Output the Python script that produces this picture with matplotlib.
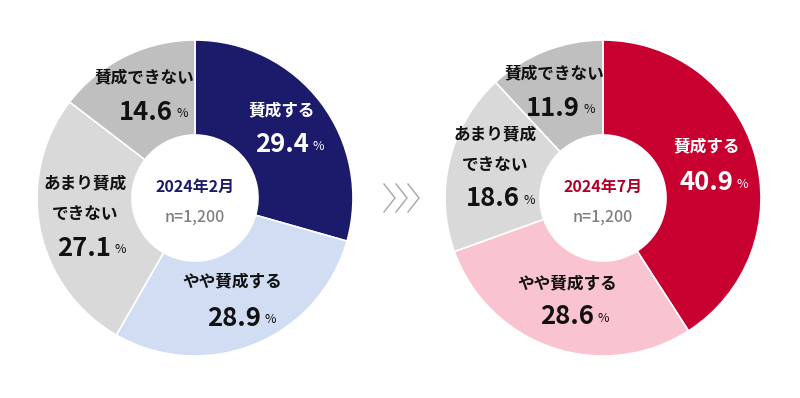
import matplotlib
matplotlib.use("Agg")
import matplotlib.pyplot as plt

plt.rcParams['font.family'] = ['Noto Sans CJK JP', 'DejaVu Sans']

# ---- data ----
categories = ["賛成する", "やや賛成する", "あまり賛成\nできない", "賛成できない"]
feb_values = [29.4, 28.9, 27.1, 14.6]
jul_values = [40.9, 28.6, 18.6, 11.9]
feb_title = "2024年2月"
jul_title = "2024年7月"
n_label = "n=1,200"

feb_colors = ["#1b1a6b", "#d1ddf2", "#d9d9d9", "#bfbfbf"]
jul_colors = ["#c8002f", "#f9c3d0", "#d9d9d9", "#bfbfbf"]

W, H = 800, 398
fig = plt.figure(figsize=(W / 100, H / 100), dpi=100)
ax = fig.add_axes([0, 0, 1, 1])

R, HOLE = 158, 63

def Y(py):
    return H - py

def donut(cx, cy, values, colors):
    ax.pie(values, colors=colors, startangle=90, counterclock=False,
           radius=R, center=(cx, Y(cy)), frame=True,
           wedgeprops=dict(width=R - HOLE, edgecolor="white", linewidth=1.2))

donut(195, 198, feb_values, feb_colors)
donut(603, 198, jul_values, jul_colors)
ax.set_xlim(0, W)
ax.set_ylim(0, H)
ax.set_aspect("auto")
ax.axis("off")

def label(x, y, cat, val, num_y, num_x, color):
    ax.text(x, Y(y), cat, ha="center", va="center", fontsize=12,
            fontweight="bold", color=color, linespacing=1.9)
    t = ax.text(num_x, Y(num_y), f"{val:.1f}", ha="center", va="center",
                fontsize=18.5, fontweight="bold", color=color)
    ax.annotate("%", xy=(1, 0.22), xycoords=t, xytext=(2.5, 0),
                textcoords="offset points", ha="left", va="bottom",
                fontsize=9, fontweight="normal", color=color)

# February labels
label(282, 110, categories[0], feb_values[0], 145, 282, "white")
label(232, 281, categories[1], feb_values[1], 318, 234, "#111111")
label(85, 199, categories[2], feb_values[2], 248, 84, "#111111")
label(144, 77, categories[3], feb_values[3], 112, 146, "#111111")

# July labels
label(707, 146, categories[0], jul_values[0], 183, 706, "white")
label(567, 283, categories[1], jul_values[1], 317, 567, "#111111")
label(495, 150, categories[2], jul_values[2], 199, 493, "#111111")
label(554, 73, categories[3], jul_values[3], 108, 553, "#111111")

# center texts
ax.text(195, Y(187), feb_title, ha="center", va="center", fontsize=11.5,
        fontweight="bold", color="#1b1a6b")
ax.text(195, Y(217), n_label, ha="center", va="center", fontsize=11.5,
        fontweight="medium", color="#7f7f7f")
ax.text(603, Y(187), jul_title, ha="center", va="center", fontsize=11.5,
        fontweight="bold", color="#b0002a")
ax.text(603, Y(217), n_label, ha="center", va="center", fontsize=11.5,
        fontweight="medium", color="#7f7f7f")

# chevrons
for x0 in (384, 396, 408):
    ax.plot([x0, x0 + 11, x0], [Y(184), Y(198), Y(212)], color="#a6a6a6",
            lw=1.0, solid_joinstyle="miter")

fig.savefig("out.png", dpi=100, facecolor="white")
